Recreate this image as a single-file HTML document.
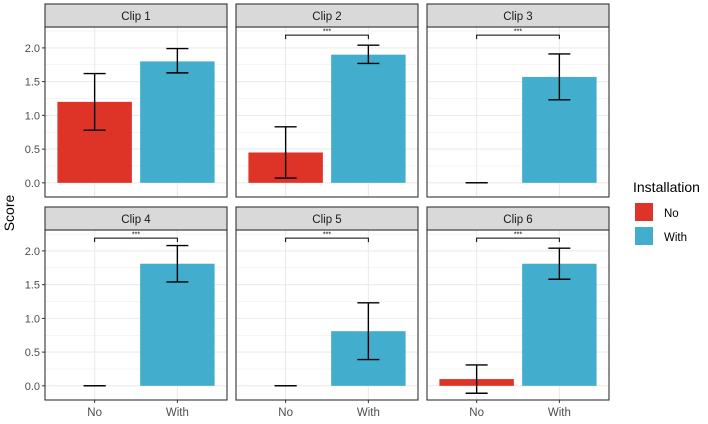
<!DOCTYPE html>
<html><head><meta charset="utf-8"><style>
body{margin:0;background:#fff;font-family:"Liberation Sans",sans-serif}
</style></head><body>
<svg id="c" width="708" height="419" xmlns="http://www.w3.org/2000/svg"></svg>
<script>
const clips=["Clip 1","Clip 2","Clip 3","Clip 4","Clip 5","Clip 6"];
const groups=["No","With"];
const noVals=[1.2,0.45,0,0,0,0.1];
const noLo=[0.78,0.07,0,0,0,-0.11];
const noHi=[1.62,0.83,0,0,0,0.31];
const withVals=[1.8,1.9,1.57,1.81,0.81,1.81];
const withLo=[1.63,1.77,1.23,1.54,0.39,1.58];
const withHi=[1.99,2.04,1.91,2.08,1.23,2.04];
const sig=[false,true,true,true,true,true];
const yTicks=[0,0.5,1,1.5,2];
const tickLabels=["0.0","0.5","1.0","1.5","2.0"];
const colors=["#DE3327","#42ADCC"];
const NS="http://www.w3.org/2000/svg";
const svg=document.getElementById('c');
function mk(t,a,p){const e=document.createElementNS(NS,t);for(const k in a)e.setAttribute(k,a[k]);(p||svg).appendChild(e);return e;}
const pxL=[45,236,427],pw=182,rowTop=[4,207],stripH=23,plotH=170;
const ymin=-0.21,ymax=2.31;
clips.forEach((name,i)=>{
  const r=Math.floor(i/3),c=i%3;
  const x0=pxL[c],st=rowTop[r],py=st+stripH;
  const y=v=>py+plotH-(v-ymin)/(ymax-ymin)*plotH;
  const x=k=>x0+(k+0.6)/2.2*pw;
  const g=mk('g',{});
  
  
  mk('rect',{x:x0,y:py,width:pw,height:plotH,fill:'#fff'},g);
  for(let v=-0.25;v<=2.3;v+=0.25){
    const major=Math.abs(v*2-Math.round(v*2))<1e-6;
    if(v<ymin)continue;
    mk('line',{x1:x0,x2:x0+pw,y1:y(v),y2:y(v),stroke:'#EBEBEB','stroke-width':major?1.1:0.55},g);
  }
  [0,1].forEach(k=>mk('line',{x1:x(k),x2:x(k),y1:py,y2:py+plotH,stroke:'#EBEBEB','stroke-width':1.1},g));
  const vals=[noVals[i],withVals[i]],lo=[noLo[i],withLo[i]],hi=[noHi[i],withHi[i]];
  const bw=0.9/2.2*pw;
  [0,1].forEach(k=>{
    const top=Math.max(vals[k],0);
    const b=mk('rect',{x:x(k)-bw/2,y:y(top),width:bw,height:Math.max(y(0)-y(top),0.01),fill:colors[k]},g);
    
    
    const e=mk('g',{stroke:'#000','stroke-width':1.4},g);
    
    
    mk('line',{x1:x(k),x2:x(k),y1:y(lo[k]),y2:y(hi[k])},e);
    mk('line',{x1:x(k)-11,x2:x(k)+11,y1:y(lo[k]),y2:y(lo[k])},e);
    mk('line',{x1:x(k)-11,x2:x(k)+11,y1:y(hi[k]),y2:y(hi[k])},e);
  });
  if(sig[i]){
    const by=y(2.19);
    const s=mk('path',{d:`M${x(0)} ${by+4}V${by}H${x(1)}V${by+4}`,fill:'none',stroke:'#000','stroke-width':1},g);
    
    
    const t=mk('text',{x:(x(0)+x(1))/2,y:by-1.5,'font-size':7,'text-anchor':'middle',fill:'#000'},g);
    t.textContent='***';
  }
  mk('rect',{x:x0,y:py,width:pw,height:plotH,fill:'none',stroke:'#333','stroke-width':1.1},g);
  const sr=mk('rect',{x:x0,y:st,width:pw,height:stripH,fill:'#D9D9D9',stroke:'#333','stroke-width':1.1},g);
  
  
  const stt=mk('text',{x:x0+pw/2,y:st+16,'font-size':11.5,'text-anchor':'middle',fill:'#1A1A1A'},g);
  stt.textContent=name;
  if(c===0){
    yTicks.forEach((v,j)=>{
      mk('line',{x1:x0-3,x2:x0,y1:y(v),y2:y(v),stroke:'#333'},g);
      const t=mk('text',{x:x0-5,y:y(v)+4,'font-size':11,'text-anchor':'end',fill:'#4D4D4D'},g);
      t.textContent=tickLabels[j];
    });
  }
  if(r===1){
    [0,1].forEach(k=>{
      mk('line',{x1:x(k),x2:x(k),y1:py+plotH,y2:py+plotH+3,stroke:'#333'},g);
      const t=mk('text',{x:x(k),y:py+plotH+16,'font-size':11.5,'text-anchor':'middle',fill:'#4D4D4D'},g);
      t.textContent=groups[k];
    });
  }
});
const yl=mk('text',{x:0,y:0,'font-size':14,'text-anchor':'middle',fill:'#000',transform:'translate(14,213) rotate(-90)'});
yl.textContent='Score';
const lg=mk('g',{});

const lt=mk('text',{x:633,y:192,'font-size':14,fill:'#000'},lg);lt.textContent='Installation';
groups.forEach((gname,k)=>{
  const e=mk('g',{},lg);
  
  
  mk('rect',{x:635,y:203+k*24,width:18,height:18,fill:colors[k]},e);
  const t=mk('text',{x:664,y:217+k*24,'font-size':11.5,fill:'#000'},e);t.textContent=gname;
});
</script>
</body></html>
